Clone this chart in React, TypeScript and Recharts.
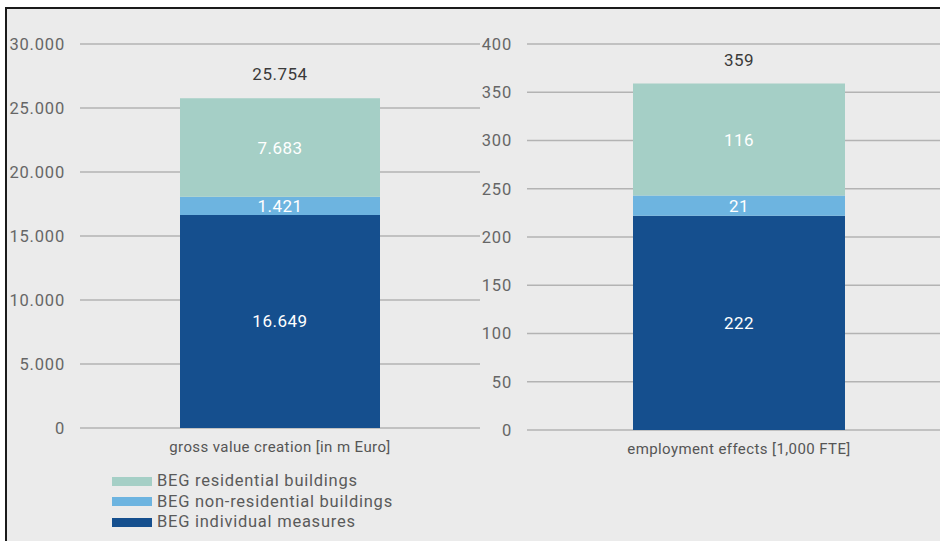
import React from 'react';
import { BarChart, Bar, XAxis, YAxis, CartesianGrid, LabelList } from 'recharts';

// ---- data ----
const categoriesLeft = ['gross value creation [in m Euro]'];
const individualLeft = [16649];
const nonResidentialLeft = [1421];
const residentialLeft = [7683];
const totalLeft = [25754];
const ticksLeft = [0, 5000, 10000, 15000, 20000, 25000, 30000];

const categoriesRight = ['employment effects [1,000 FTE]'];
const individualRight = [222];
const nonResidentialRight = [21];
const residentialRight = [116];
const totalRight = [359];
const ticksRight = [0, 50, 100, 150, 200, 250, 300, 350, 400];

const seriesNames = ['BEG residential buildings', 'BEG non-residential buildings', 'BEG individual measures'];
const seriesKeys = ['residential', 'nonResidential', 'individual'];
const seriesColors = ['#a5cfc6', '#6db4e0', '#154f8e'];

const FONT = 'Roboto, "Noto Sans", sans-serif';

const fmt = (n: number) => String(n).replace(/\B(?=(\d{3})+(?!\d))/g, '.');

function buildRows(cats: string[], ind: number[], non: number[], res: number[], tot: number[]) {
  return cats.map((c, i) => ({
    name: c,
    individual: ind[i],
    nonResidential: non[i],
    residential: res[i],
    total: tot[i],
  }));
}

const dataLeft = buildRows(categoriesLeft, individualLeft, nonResidentialLeft, residentialLeft, totalLeft);
const dataRight = buildRows(categoriesRight, individualRight, nonResidentialRight, residentialRight, totalRight);

const TotalLabel = (props: any) => {
  const { x, y, width, value } = props;
  return (
    <text
      x={x + width / 2}
      y={y - 24}
      textAnchor="middle"
      dominantBaseline="central"
      fill="#3a3a3a"
      fontSize={17}
      fontFamily={FONT}
      letterSpacing={0.5}
    >
      {fmt(value)}
    </text>
  );
};

function Panel({ data, ticks, max, width, bottom, barSize }: any) {
  return (
    <BarChart
      width={width}
      height={541}
      data={data}
      margin={{ top: 44, right: 0, left: 0, bottom }}
      barSize={barSize}
    >
      <CartesianGrid horizontal vertical={false} stroke="#b3b3b3" strokeWidth={1.5} strokeDasharray="" />
      <XAxis
        dataKey="name"
        axisLine={false}
        tickLine={false}
        tickSize={0}
        tickMargin={13}
        height={30}
        tick={{ fill: '#555', fontSize: 15, fontFamily: FONT, letterSpacing: 0.4 }}
      />
      <YAxis
        domain={[0, max]}
        ticks={ticks}
        interval={0}
        axisLine={false}
        tickLine={false}
        tickSize={0}
        tickMargin={15}
        width={80}
        tickFormatter={fmt}
        tick={{ fill: '#666', fontSize: 16.5, fontFamily: FONT, letterSpacing: 0.8 }}
      />
      <Bar dataKey="individual" stackId="a" fill={seriesColors[2]} isAnimationActive={false}>
        <LabelList dataKey="individual" position="center" fill="#fff" fontSize={17} fontFamily={FONT} letterSpacing={0.5} formatter={fmt} />
      </Bar>
      <Bar dataKey="nonResidential" stackId="a" fill={seriesColors[1]} isAnimationActive={false}>
        <LabelList dataKey="nonResidential" position="center" fill="#fff" fontSize={17} fontFamily={FONT} letterSpacing={0.5} formatter={fmt} />
      </Bar>
      <Bar dataKey="residential" stackId="a" fill={seriesColors[0]} isAnimationActive={false}>
        <LabelList dataKey="residential" position="center" fill="#fff" fontSize={17} fontFamily={FONT} letterSpacing={0.5} formatter={fmt} />
        <LabelList dataKey="total" content={<TotalLabel />} />
      </Bar>
    </BarChart>
  );
}

export default function App() {
  return (
    <div
      style={{
        position: 'absolute',
        left: 0,
        top: 0,
        width: 940,
        height: 541,
        overflow: 'hidden',
        background: '#fff',
        fontFamily: FONT,
      }}
    >
      <div
        style={{
          position: 'absolute',
          left: 5,
          top: 7,
          width: 940,
          height: 541,
          background: '#ebebeb',
          borderLeft: '2px solid #1a1a1a',
          borderTop: '2px solid #1a1a1a',
        }}
      />
      <div style={{ position: 'absolute', left: 0, top: 0 }}>
        <Panel data={dataLeft} ticks={ticksLeft} max={30000} width={480} bottom={83} barSize={200} />
      </div>
      <div style={{ position: 'absolute', left: 447, top: 0 }}>
        <Panel data={dataRight} ticks={ticksRight} max={400} width={504} bottom={81} barSize={212} />
      </div>
      <div style={{ position: 'absolute', left: 112, top: 471 }}>
        {seriesNames.map((n, i) => (
          <div key={seriesKeys[i]} style={{ display: 'flex', alignItems: 'center', height: 20.5 }}>
            <div style={{ width: 40, height: 9, background: seriesColors[i], marginRight: 5 }} />
            <span style={{ color: '#5a5a5a', fontSize: 16.5, fontFamily: FONT, lineHeight: '20.5px', letterSpacing: 0.75 }}>{n}</span>
          </div>
        ))}
      </div>
    </div>
  );
}
